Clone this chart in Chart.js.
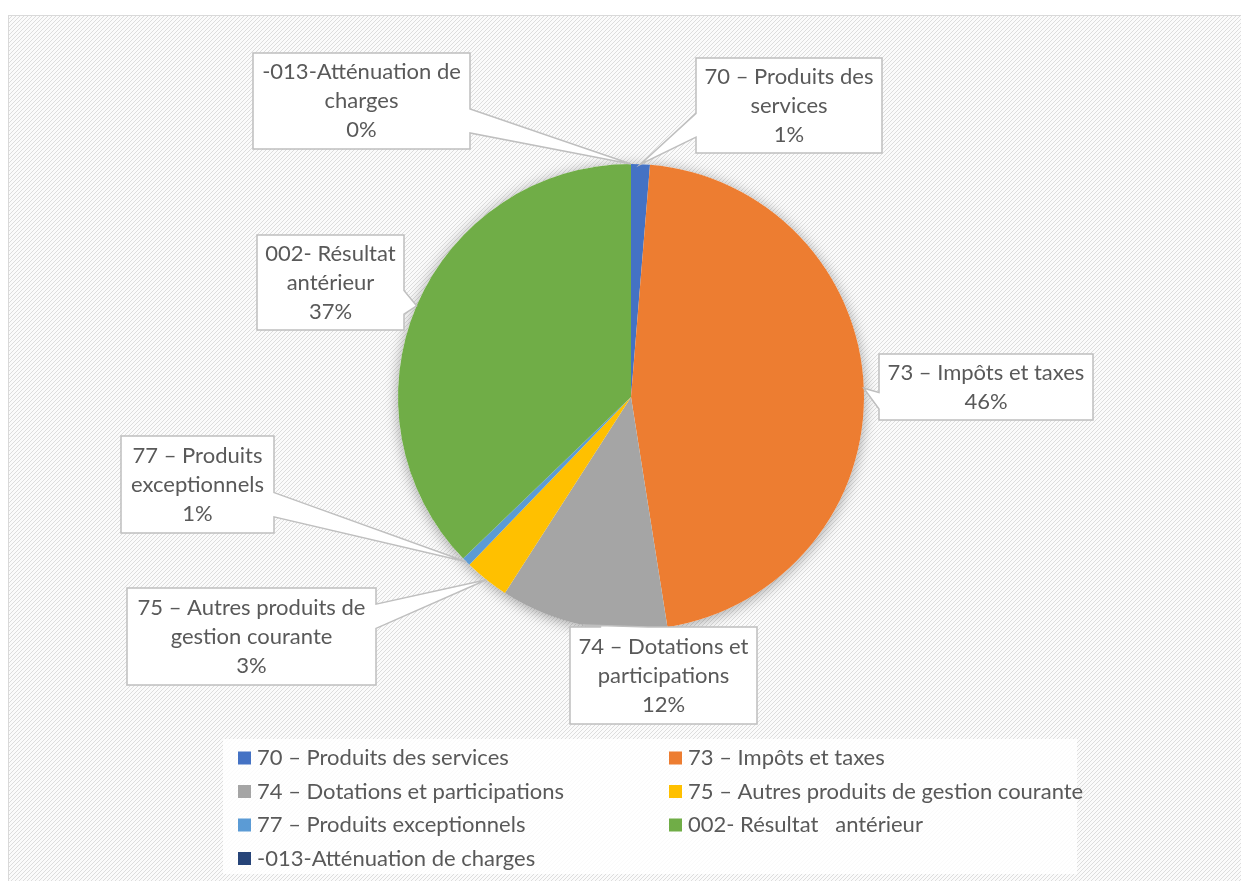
<!DOCTYPE html>
<html lang="fr">
<head>
<meta charset="UTF-8" />
<title>Recettes de fonctionnement</title>
<script src="https://cdn.jsdelivr.net/npm/chart.js"></script>
<style>
  html, body { margin: 0; padding: 0; background: #fff; }
  #wrap { width: 1241px; height: 881px; position: relative; overflow: hidden; }
</style>
</head>
<body>
<div id="wrap"><canvas id="pie" width="1241" height="881"></canvas></div>
<script>
// données (parts en %)
const categories = [
  '70 – Produits des services',
  '73 – Impôts et taxes',
  '74 – Dotations et participations',
  '75 – Autres produits de gestion courante',
  '77 – Produits exceptionnels',
  '002- Résultat   antérieur',
  '-013-Atténuation de charges'
];
const shares = [1.3, 46.2, 11.6, 3.1, 0.6, 37.2, 0];
const sliceColors = ['#4472C4', '#ED7D31', '#A5A5A5', '#FFC000', '#5B9BD5', '#70AD47', '#264478'];

// position des étiquettes (bulles), dans l'ordre des catégories
const boxes = [
  {x: 696, y: 58,  w: 186, h: 95},
  {x: 879, y: 354, w: 214, h: 66},
  {x: 570, y: 627, w: 187, h: 97},
  {x: 127, y: 588, w: 249, h: 97},
  {x: 121, y: 436, w: 153, h: 97},
  {x: 257, y: 235, w: 147, h: 95},
  {x: 253, y: 53,  w: 217, h: 96}
];

const FONT = '22px Lato';
const TEXT = '#595959';

function wrap(ctx, text, maxW) {
  const words = text.split(/\s+/);
  const lines = [];
  let cur = '';
  for (const w of words) {
    const t = cur ? cur + ' ' + w : w;
    if (cur && ctx.measureText(t).width > maxW) { lines.push(cur); cur = w; }
    else cur = t;
  }
  if (cur) lines.push(cur);
  return lines;
}

function calloutPath(ctx, b, tx, ty) {
  const cx = b.x + b.w / 2, cy = b.y + b.h / 2;
  const dxn = (tx - cx) / b.w, dyn = (ty - cy) / b.h;
  const r = b.x + b.w, bt = b.y + b.h;
  ctx.beginPath();
  if (Math.abs(dxn) <= 0.5 && Math.abs(dyn) <= 0.5) {
    ctx.rect(b.x, b.y, b.w, b.h);
    return;
  }
  if (Math.abs(dxn) > Math.abs(dyn)) {
    const y1 = b.y + b.h * (dyn > 0 ? 7 / 12 : 2 / 12);
    const y2 = b.y + b.h * (dyn > 0 ? 10 / 12 : 5 / 12);
    if (dxn < 0) {
      ctx.moveTo(b.x, b.y); ctx.lineTo(r, b.y); ctx.lineTo(r, bt); ctx.lineTo(b.x, bt);
      ctx.lineTo(b.x, y2); ctx.lineTo(tx, ty); ctx.lineTo(b.x, y1);
    } else {
      ctx.moveTo(b.x, b.y); ctx.lineTo(r, b.y); ctx.lineTo(r, y1); ctx.lineTo(tx, ty);
      ctx.lineTo(r, y2); ctx.lineTo(r, bt); ctx.lineTo(b.x, bt);
    }
  } else {
    const x1 = b.x + b.w * (dxn > 0 ? 7 / 12 : 2 / 12);
    const x2 = b.x + b.w * (dxn > 0 ? 10 / 12 : 5 / 12);
    if (dyn < 0) {
      ctx.moveTo(b.x, b.y); ctx.lineTo(x1, b.y); ctx.lineTo(tx, ty); ctx.lineTo(x2, b.y);
      ctx.lineTo(r, b.y); ctx.lineTo(r, bt); ctx.lineTo(b.x, bt);
    } else {
      ctx.moveTo(b.x, b.y); ctx.lineTo(r, b.y); ctx.lineTo(r, bt); ctx.lineTo(x2, bt);
      ctx.lineTo(tx, ty); ctx.lineTo(x1, bt); ctx.lineTo(b.x, bt);
    }
  }
  ctx.closePath();
}

// fond hachuré + cadre
const backgroundPlugin = {
  id: 'hatchBg',
  beforeDraw(chart) {
    const ctx = chart.ctx;
    const tile = document.createElement('canvas');
    tile.width = 4; tile.height = 4;
    const t = tile.getContext('2d');
    t.fillStyle = '#fbfbfb'; t.fillRect(0, 0, 4, 4);
    t.strokeStyle = '#dddddd'; t.lineWidth = 1;
    t.beginPath();
    t.moveTo(0, 4); t.lineTo(4, 0);
    t.moveTo(-2, 2); t.lineTo(2, -2);
    t.moveTo(2, 6); t.lineTo(6, 2);
    t.stroke();
    ctx.save();
    ctx.fillStyle = '#fff';
    ctx.fillRect(0, 0, chart.width, chart.height);
    ctx.fillStyle = ctx.createPattern(tile, 'repeat');
    ctx.fillRect(8, 15, chart.width, chart.height);
    ctx.strokeStyle = '#d9d9d9'; ctx.lineWidth = 1;
    ctx.strokeRect(8.5, 15.5, chart.width + 10, chart.height + 10);
    ctx.restore();
  },
  beforeDatasetsDraw(chart) {
    const arc = chart.getDatasetMeta(0).data[0];
    if (!arc) return;
    const ctx = chart.ctx;
    ctx.save();
    ctx.shadowColor = 'rgba(0,0,0,0.35)';
    ctx.shadowBlur = 14;
    ctx.shadowOffsetY = 2;
    ctx.fillStyle = '#fff';
    ctx.beginPath();
    ctx.arc(arc.x, arc.y, arc.outerRadius, 0, Math.PI * 2);
    ctx.fill();
    ctx.restore();
  }
};

// bulles d'étiquettes et légende
const labelPlugin = {
  id: 'callouts',
  afterDatasetsDraw(chart) {
    const ctx = chart.ctx;
    const meta = chart.getDatasetMeta(0);
    const values = chart.data.datasets[0].data;
    const total = values.reduce((a, b) => a + b, 0);
    ctx.save();
    ctx.font = FONT;
    meta.data.forEach((arc, i) => {
      const p = arc.getProps(['x', 'y', 'startAngle', 'endAngle', 'outerRadius'], true);
      const mid = (p.startAngle + p.endAngle) / 2;
      const tx = p.x + Math.cos(mid) * p.outerRadius;
      const ty = p.y + Math.sin(mid) * p.outerRadius;
      const b = boxes[i];
      calloutPath(ctx, b, tx, ty);
      ctx.fillStyle = '#ffffff';
      ctx.fill();
      ctx.strokeStyle = '#bfbfbf';
      ctx.lineWidth = 1.5;
      ctx.stroke();
      const lines = wrap(ctx, chart.data.labels[i], b.w - 8);
      lines.push(Math.round(values[i] / total * 100) + '%');
      const lh = 29;
      const y0 = b.y + b.h / 2 - (lines.length - 1) * lh / 2;
      ctx.fillStyle = TEXT;
      ctx.textAlign = 'center';
      ctx.textBaseline = 'middle';
      lines.forEach((ln, k) => ctx.fillText(ln, b.x + b.w / 2, y0 + k * lh));
    });

    // légende sur deux colonnes
    ctx.fillStyle = 'rgba(255,255,255,0.85)';
    ctx.fillRect(223, 739, 854, 135);
    ctx.textAlign = 'left';
    ctx.textBaseline = 'middle';
    chart.data.labels.forEach((lab, i) => {
      const col = i % 2, row = Math.floor(i / 2);
      const x = 238 + col * 431;
      const y = 758 + row * 33.5;
      ctx.fillStyle = sliceColors[i];
      ctx.fillRect(x, y - 6.5, 13, 13);
      ctx.fillStyle = TEXT;
      ctx.fillText(lab, x + 19, y);
    });
    ctx.restore();
  }
};

new Chart(document.getElementById('pie'), {
  type: 'pie',
  data: {
    labels: categories,
    datasets: [{
      data: shares,
      backgroundColor: sliceColors,
      borderWidth: 0,
      hoverOffset: 0,
      offset: 0
    }]
  },
  options: {
    responsive: false,
    animation: false,
    layout: { padding: { left: 398, right: 377, top: 164, bottom: 251 } },
    plugins: {
      legend: { display: false },
      tooltip: { enabled: false }
    }
  },
  plugins: [backgroundPlugin, labelPlugin]
});
</script>
</body>
</html>
